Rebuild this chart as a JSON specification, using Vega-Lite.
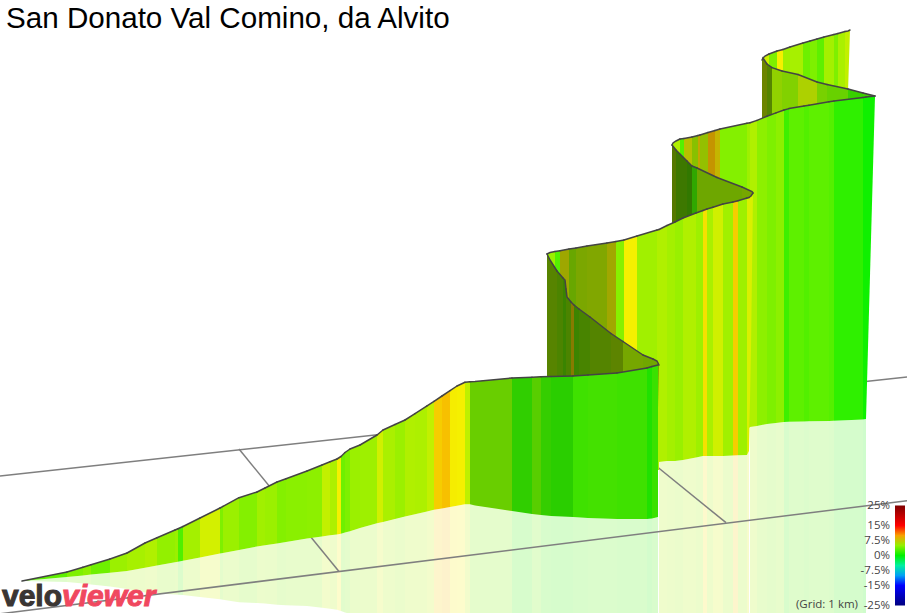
{
  "$schema": "https://vega.github.io/schema/vega-lite/v6.json",
  "width": 907,
  "height": 613,
  "padding": 0,
  "autosize": "none",
  "background": "white",
  "config": {"view": {"stroke": null}},
  "title": {"text": "San Donato Val Comino, da Alvito", "anchor": "start", "frame": "group", "font": "Liberation Sans", "fontSize": 29.6, "fontWeight": "normal", "color": "black", "baseline": "top", "dx": 6, "offset": -35},
  "datasets": {
    "grid": [
      {"line": "far", "x": 0, "t": 476}, {"line": "far", "x": 907, "t": 377},
      {"line": "near", "x": 0, "t": 613.8}, {"line": "near", "x": 907, "t": 500.7},
      {"line": "cross1", "x": 239, "t": 449}, {"line": "cross1", "x": 339, "t": 571.5},
      {"line": "cross2", "x": 655, "t": 465}, {"line": "cross2", "x": 726, "t": 522.7}
    ],
    "velo": [{"label": "velo", "x": 2, "t": 606}],
    "viewer": [{"label": "viewer", "x": 62, "t": 606}],
    "note": [{"label": "(Grid: 1 km)", "x": 858, "t": 605}]
  },
  "data": {"values": [
    {"s":1,"sec":"A1","g":3.2,"x":[22,67],"t":[581,572],"b":[581,577],"r":[581,582]},
    {"s":2,"sec":"A1","g":4.3,"x":[67,83],"t":[572,567.2],"b":[577,575.4],"r":[582,583.6]},
    {"s":3,"sec":"A1","g":4.8,"x":[83,91],"t":[567.2,564.7],"b":[575.4,574.6],"r":[583.6,584.5]},
    {"s":4,"sec":"A1","g":3.75,"x":[91,110],"t":[564.7,559],"b":[574.6,572.7],"r":[584.5,586.4]},
    {"s":5,"sec":"A1","g":5.3,"x":[110,127],"t":[559,553],"b":[572.7,571],"r":[586.4,589]},
    {"s":6,"sec":"A1","g":5.7,"x":[127,145],"t":[553,543],"b":[571,567.8],"r":[589,592.6]},
    {"s":7,"sec":"A1","g":6,"x":[145,157],"t":[543,537.7],"b":[567.8,565.5],"r":[592.6,593.3]},
    {"s":8,"sec":"A1","g":5,"x":[157,175],"t":[537.7,530],"b":[565.5,562.3],"r":[593.3,594.6]},
    {"s":9,"sec":"A1","g":5.3,"x":[175,178],"t":[530,528.7],"b":[562.3,561.7],"r":[594.6,594.7]},
    {"s":10,"sec":"A1","g":2.7,"x":[178,183],"t":[528.7,526.5],"b":[561.7,560.8],"r":[594.7,595.1]},
    {"s":11,"sec":"A1","g":5.6,"x":[183,200],"t":[526.5,518],"b":[560.8,557.5],"r":[595.1,597]},
    {"s":12,"sec":"A1","g":6.75,"x":[200,220],"t":[518,508],"b":[557.5,553.6],"r":[597,599.2]},
    {"s":13,"sec":"A1","g":4.3,"x":[220,223],"t":[508,506.3],"b":[553.6,553],"r":[599.2,599.7]},
    {"s":14,"sec":"A1","g":5.3,"x":[223,239],"t":[506.3,497.7],"b":[553,550],"r":[599.7,602.3]},
    {"s":15,"sec":"A1","g":4.5,"x":[239,257],"t":[497.7,492],"b":[550,546.5],"r":[602.3,603]},
    {"s":16,"sec":"A1","g":5.5,"x":[257,265],"t":[492,488],"b":[546.5,545.2],"r":[603,603.6]},
    {"s":17,"sec":"A1","g":5.3,"x":[265,277],"t":[488,482],"b":[545.2,543.4],"r":[603.6,604.8]},
    {"s":18,"sec":"A1","g":4.5,"x":[277,286],"t":[482,478.7],"b":[543.4,542],"r":[604.8,605.3]},
    {"s":19,"sec":"A1","g":4.7,"x":[286,307],"t":[478.7,471],"b":[542,538.5],"r":[605.3,606]},
    {"s":20,"sec":"A1","g":4.8,"x":[307,322],"t":[471,465],"b":[538.5,536.4],"r":[606,607.8]},
    {"s":21,"sec":"A1","g":6.4,"x":[322,330],"t":[465,461.8],"b":[536.4,535.3],"r":[607.8,608.8]},
    {"s":22,"sec":"A1","g":5.9,"x":[330,337],"t":[461.8,459],"b":[535.3,534.4],"r":[608.8,609.8]},
    {"s":23,"sec":"A1","g":7.5,"x":[337,341],"t":[459,456.5],"b":[534.4,533.7],"r":[609.8,611]},
    {"s":24,"sec":"A1","g":3.75,"x":[341,345],"t":[456.5,452.5],"b":[533.7,532.5],"r":[611,612.5]},
    {"s":25,"sec":"A1","g":4.3,"x":[345,350],"t":[452.5,449],"b":[532.5,531.2],"r":[612.5,614]},
    {"s":26,"sec":"A1","g":5.3,"x":[350,360],"t":[449,445],"b":[531.2,528],"r":[614,625]},
    {"s":27,"sec":"A1","g":5.4,"x":[360,377],"t":[445,435],"b":[528,523.3],"r":[625,640]},
    {"s":28,"sec":"A1","g":6.7,"x":[377,383],"t":[435,430],"b":[523.3,522],"r":[640,640]},
    {"s":29,"sec":"A1","g":5.8,"x":[383,395],"t":[430,424.5],"b":[522,519],"r":[640,640]},
    {"s":30,"sec":"A1","g":5.3,"x":[395,405],"t":[424.5,420],"b":[519,516.6],"r":[640,640]},
    {"s":31,"sec":"A1","g":6,"x":[405,415],"t":[420,413.6],"b":[516.6,514.2],"r":[640,640]},
    {"s":32,"sec":"A1","g":5.9,"x":[415,427],"t":[413.6,405.9],"b":[514.2,511.4],"r":[640,640]},
    {"s":33,"sec":"A1","g":6.4,"x":[427,434],"t":[405.9,401.3],"b":[511.4,509.8],"r":[640,640]},
    {"s":34,"sec":"A1","g":8.6,"x":[434,442],"t":[401.3,396],"b":[509.8,508.4],"r":[640,640]},
    {"s":35,"sec":"A1","g":9,"x":[442,450],"t":[396,390.7],"b":[508.4,507],"r":[640,640]},
    {"s":36,"sec":"A1","g":7.6,"x":[450,457],"t":[390.7,386],"b":[507,505.8],"r":[640,640]},
    {"s":37,"sec":"A1","g":7.5,"x":[457,465],"t":[386,382.3],"b":[505.8,504.3],"r":[640,640]},
    {"s":38,"sec":"A1","g":6.3,"x":[465,470],"t":[382.3,381.7],"b":[504.3,504.3],"r":[640,640]},
    {"s":39,"sec":"A2","g":4.2,"x":[470,475,512],"t":[381.7,381.4,378],"b":[504.3,505.5,511],"r":[640,640,640]},
    {"s":40,"sec":"A2","g":1.9,"x":[512,532],"t":[378,377.2],"b":[511,514],"r":[640,640]},
    {"s":41,"sec":"A2","g":3.5,"x":[532,541],"t":[377.2,376.8],"b":[514,515],"r":[640,640]},
    {"s":42,"sec":"A2","g":2.1,"x":[541,551],"t":[376.8,376.5],"b":[515,516],"r":[640,640]},
    {"s":43,"sec":"A2","g":1.7,"x":[551,573],"t":[376.5,376],"b":[516,517],"r":[640,640]},
    {"s":44,"sec":"A3","g":2.3,"x":[573,588],"t":[376,375],"b":[517,518],"r":[640,640]},
    {"s":45,"sec":"A3","g":2.5,"x":[588,617],"t":[375,373],"b":[518,519],"r":[640,640]},
    {"s":46,"sec":"A3","g":2.3,"x":[617,647],"t":[373,368],"b":[519,519],"r":[640,640]},
    {"s":47,"sec":"A3","g":1.2,"x":[647,652],"t":[368,366.5],"b":[519,518.5],"r":[640,640]},
    {"s":48,"sec":"A3","g":2.1,"x":[652,658],"t":[366.5,365],"b":[518.5,517],"r":[640,640]},

    {"s":50,"sec":"B","g":5.4,"x":[547,550,557],"t":[254,260,271],"b":[450,450,450],"r":[]},
    {"s":51,"sec":"B","g":4.7,"x":[557,563],"t":[271,278],"b":[450,450],"r":[]},
    {"s":52,"sec":"B","g":3.6,"x":[563,565,566],"t":[278,280,289],"b":[450,450,450],"r":[]},
    {"s":53,"sec":"B","g":4.7,"x":[566,567,571],"t":[289,297,302],"b":[450,450,450],"r":[]},
    {"s":54,"sec":"B","g":8,"x":[571,574],"t":[302,305],"b":[450,450],"r":[]},
    {"s":55,"sec":"B","g":3.7,"x":[574,579],"t":[305,309],"b":[450,450],"r":[]},
    {"s":56,"sec":"B","g":4.5,"x":[579,590],"t":[309,317],"b":[450,450],"r":[]},
    {"s":57,"sec":"B","g":5.2,"x":[590,611],"t":[317,333.5],"b":[450,450],"r":[]},
    {"s":58,"sec":"B","g":5.8,"x":[611,623],"t":[333.5,341.5],"b":[450,450],"r":[]},
    {"s":59,"sec":"B2","g":5.8,"x":[623,643],"t":[341.5,355],"b":[450,450],"r":[]},
    {"s":60,"sec":"B2","g":5.5,"x":[643,653],"t":[355,359],"b":[450,450],"r":[]},
    {"s":61,"sec":"B2","g":5.6,"x":[653,657,659],"t":[359,361,365],"b":[450,450,365],"r":[]},

    {"s":70,"sec":"C2","g":5.3,"x":[547,550,555],"t":[254,252.5,251.5],"b":[470,470,470],"r":[]},
    {"s":71,"sec":"C2","g":2.9,"x":[555,560],"t":[251.5,250.7],"b":[470,470],"r":[]},
    {"s":72,"sec":"C1","g":7.1,"x":[560,569],"t":[250.7,249],"b":[470,470],"r":[]},
    {"s":73,"sec":"C1","g":5.1,"x":[569,576],"t":[249,248],"b":[470,470],"r":[]},
    {"s":74,"sec":"C1","g":6,"x":[576,587],"t":[248,246],"b":[470,470],"r":[]},
    {"s":75,"sec":"C1","g":6.2,"x":[587,607],"t":[246,243],"b":[470,470],"r":[]},
    {"s":76,"sec":"C1","g":7.2,"x":[607,616],"t":[243,241.5],"b":[470,470],"r":[]},
    {"s":77,"sec":"C2","g":4.6,"x":[616,624],"t":[241.5,240],"b":[470,470],"r":[]},
    {"s":78,"sec":"C2","g":7.5,"x":[624,637],"t":[240,236],"b":[470,470],"r":[]},
    {"s":79,"sec":"C2","g":5.5,"x":[637,657],"t":[236,230],"b":[470,470],"r":[]},
    {"s":80,"sec":"C2","g":6,"x":[657,659],"t":[230,229.5],"b":[470,470],"r":[]},
    {"s":81,"sec":"C2","g":6,"x":[659,667],"t":[229.5,225.5],"b":[462,461],"r":[640,640]},
    {"s":82,"sec":"C2","g":5.6,"x":[667,675],"t":[225.5,222],"b":[461,461],"r":[640,640]},
    {"s":83,"sec":"C2","g":5.2,"x":[675,683],"t":[222,218],"b":[461,460],"r":[640,640]},
    {"s":84,"sec":"C2","g":6,"x":[683,696],"t":[218,213],"b":[460,457.5],"r":[640,640]},
    {"s":85,"sec":"C2","g":5.4,"x":[696,703],"t":[213,210.5],"b":[457.5,456],"r":[640,640]},
    {"s":86,"sec":"C2","g":8,"x":[703,707],"t":[210.5,209],"b":[456,456],"r":[640,640]},
    {"s":87,"sec":"C2","g":5.8,"x":[707,713],"t":[209,207.3],"b":[456,456],"r":[640,640]},
    {"s":88,"sec":"C2","g":6.7,"x":[713,723],"t":[207.3,204],"b":[456,456],"r":[640,640]},
    {"s":89,"sec":"C2","g":5.5,"x":[723,733],"t":[204,202],"b":[456,455.5],"r":[640,640]},
    {"s":90,"sec":"C2","g":8.6,"x":[733,738],"t":[202,200.7],"b":[455.5,455.3],"r":[640,640]},
    {"s":91,"sec":"C2","g":5.4,"x":[738,747],"t":[200.7,198],"b":[455.3,455],"r":[640,640]},
    {"s":92,"sec":"C2","g":6.9,"x":[747,749],"t":[198,197.5],"b":[455,451],"r":[640,640]},
    {"s":93,"sec":"C2","g":6.9,"x":[749,751,753],"t":[197.5,196,193],"b":[451,350,193],"r":[]},

    {"s":100,"sec":"D1","g":5.8,"x":[672,676],"t":[145,150],"b":[300,300],"r":[]},
    {"s":101,"sec":"D1","g":4.2,"x":[676,687],"t":[150,161],"b":[300,300],"r":[]},
    {"s":102,"sec":"D1","g":3.4,"x":[687,692],"t":[161,166],"b":[300,300],"r":[]},
    {"s":103,"sec":"D2","g":2.4,"x":[692,697],"t":[166,168],"b":[300,300],"r":[]},
    {"s":104,"sec":"D2","g":5.4,"x":[697,717],"t":[168,177.5],"b":[300,300],"r":[]},
    {"s":105,"sec":"D2","g":5.4,"x":[717,742],"t":[177.5,187],"b":[300,300],"r":[]},
    {"s":106,"sec":"D2","g":5.8,"x":[742,752,753],"t":[187,191.5,193],"b":[300,195,193],"r":[]},

    {"s":110,"sec":"E2","g":6,"x":[672,673,676,680],"t":[145,143,141,139],"b":[430,430,430,430],"r":[]},
    {"s":111,"sec":"E2","g":2.9,"x":[680,684],"t":[139,138.4],"b":[430,430],"r":[]},
    {"s":112,"sec":"E1","g":7.2,"x":[684,692],"t":[138.4,137],"b":[430,430],"r":[]},
    {"s":113,"sec":"E1","g":5.8,"x":[692,698],"t":[137,135.5],"b":[430,430],"r":[]},
    {"s":114,"sec":"E1","g":8.5,"x":[698,700],"t":[135.5,135],"b":[430,430],"r":[]},
    {"s":115,"sec":"E1","g":6.2,"x":[700,708],"t":[135,132.5],"b":[430,430],"r":[]},
    {"s":116,"sec":"E1","g":9.2,"x":[708,715],"t":[132.5,130.5],"b":[430,430],"r":[]},
    {"s":117,"sec":"E1","g":7.9,"x":[715,720],"t":[130.5,129],"b":[430,430],"r":[]},
    {"s":118,"sec":"E2","g":4.5,"x":[720,747],"t":[129,123.3],"b":[430,430],"r":[]},
    {"s":119,"sec":"E2","g":5.4,"x":[747,750],"t":[123.3,122.7],"b":[430,427],"r":[]},
    {"s":120,"sec":"E2","g":6,"x":[750,757],"t":[122.7,120.4],"b":[427,426],"r":[640,640]},
    {"s":121,"sec":"E2","g":4.8,"x":[757,767],"t":[120.4,116.2],"b":[426,424],"r":[640,640]},
    {"s":122,"sec":"E2","g":4.3,"x":[767,776],"t":[116.2,112.9],"b":[424,423],"r":[640,640]},
    {"s":123,"sec":"E2","g":4.8,"x":[776,784],"t":[112.9,110],"b":[423,422],"r":[640,640]},
    {"s":124,"sec":"E2","g":2.1,"x":[784,789],"t":[110,108.6],"b":[422,421.8],"r":[640,640]},
    {"s":125,"sec":"E2","g":3.2,"x":[789,804],"t":[108.6,106],"b":[421.8,421.5],"r":[640,640]},
    {"s":126,"sec":"E2","g":2.8,"x":[804,809],"t":[106,105.2],"b":[421.5,421.3],"r":[640,640]},
    {"s":127,"sec":"E2","g":3.2,"x":[809,829],"t":[105.2,101.8],"b":[421.3,421],"r":[640,640]},
    {"s":128,"sec":"E2","g":2.9,"x":[829,834],"t":[101.8,101],"b":[421,420.8],"r":[640,640]},
    {"s":129,"sec":"E2","g":1.6,"x":[834,863],"t":[101,97.4],"b":[420.8,419.5],"r":[640,640]},
    {"s":130,"sec":"E2","g":0.5,"x":[863,866],"t":[97.4,97],"b":[419.5,419],"r":[640,640]},
    {"s":131,"sec":"E2","g":0.5,"x":[866,875],"t":[97,96],"b":[419,96],"r":[]},

    {"s":140,"sec":"F1","g":6.5,"x":[762,763,767],"t":[60,58,64],"b":[130,130,130],"r":[]},
    {"s":141,"sec":"F1","g":5.3,"x":[767,772],"t":[64,67.6],"b":[130,130],"r":[]},
    {"s":142,"sec":"F2","g":5.7,"x":[772,782],"t":[67.6,71],"b":[130,130],"r":[]},
    {"s":143,"sec":"F2","g":5.1,"x":[782,798],"t":[71,74.5],"b":[130,130],"r":[]},
    {"s":144,"sec":"F2","g":6.5,"x":[798,817],"t":[74.5,82],"b":[130,130],"r":[]},
    {"s":145,"sec":"F2","g":4.7,"x":[817,827],"t":[82,84.5],"b":[130,130],"r":[]},
    {"s":146,"sec":"F2","g":4.1,"x":[827,848],"t":[84.5,89],"b":[130,130],"r":[]},
    {"s":147,"sec":"F2","g":2.2,"x":[848,863],"t":[89,93],"b":[130,130],"r":[]},
    {"s":148,"sec":"F2","g":2.6,"x":[863,875],"t":[93,96],"b":[130,97],"r":[]},

    {"s":150,"sec":"G","g":6.6,"x":[763,765,769],"t":[58,56,54],"b":[120,120,120],"r":[]},
    {"s":151,"sec":"G","g":4.3,"x":[769,777],"t":[54,51],"b":[120,120],"r":[]},
    {"s":152,"sec":"G","g":7.5,"x":[777,783],"t":[51,49.5],"b":[120,120],"r":[]},
    {"s":153,"sec":"G","g":5.5,"x":[783,790],"t":[49.5,47],"b":[120,120],"r":[]},
    {"s":154,"sec":"G","g":5.7,"x":[790,803],"t":[47,43],"b":[120,120],"r":[]},
    {"s":155,"sec":"G","g":3.75,"x":[803,810],"t":[43,41],"b":[120,120],"r":[]},
    {"s":156,"sec":"G","g":4.3,"x":[810,817],"t":[41,39],"b":[120,120],"r":[]},
    {"s":157,"sec":"G","g":3.2,"x":[817,824],"t":[39,37],"b":[120,120],"r":[]},
    {"s":158,"sec":"G","g":5.6,"x":[824,834],"t":[37,34.5],"b":[120,120],"r":[]},
    {"s":159,"sec":"G","g":4.3,"x":[834,838],"t":[34.5,33.5],"b":[120,120],"r":[]},
    {"s":160,"sec":"G","g":5.8,"x":[838,845],"t":[33.5,31.5],"b":[120,120],"r":[]},
    {"s":161,"sec":"G","g":6.4,"x":[845,848,850],"t":[31.5,31,30],"b":[120,92,30],"r":[]}
  ]},
  "transform": [{"flatten": ["x", "t", "b", "r"]}],
  "encoding": {
    "x": {"field": "x", "type": "quantitative", "scale": {"domain": [0, 907], "nice": false, "zero": false}, "axis": null},
    "y": {"field": "t", "type": "quantitative", "scale": {"domain": [613, 0], "nice": false, "zero": false}, "axis": null},
    "detail": {"field": "s"},
    "color": {
      "field": "g",
      "type": "quantitative",
      "scale": {
        "domain": [-25, -15, -7.5, 0, 6, 7.5, 15, 25],
        "range": ["#00007f", "#0000ff", "#00f0f0", "#00f000", "#b0f000", "#f5f000", "#ff0000", "#7f0000"],
        "interpolate": "rgb"
      },
      "legend": {
        "orient": "none",
        "legendX": 895,
        "legendY": 505.5,
        "title": null,
        "padding": 0,
        "direction": "vertical",
        "gradientLength": 100,
        "gradientThickness": 10,
        "values": [-25, -15, -7.5, 0, 7.5, 15, 25],
        "labelExpr": "datum.value + '%'",
        "labelFont": "Open Sans",
        "labelFontSize": 11.5,
        "labelColor": "#444444",
        "labelOffset": -15,
        "labelOverlap": false,
        "labelPadding": 0,
        "encode": {
          "gradient": {"update": {"opacity": {"value": 1}}},
          "labels": {"update": {"align": {"value": "right"}, "baseline": {"value": "middle"}, "opacity": {"value": 1}}}
        }
      }
    }
  },
  "layer": [
    {
      "transform": [{"filter": "datum.r != null"}],
      "mark": {"type": "area", "opacity": 0.2, "clip": true},
      "encoding": {"y": {"field": "b", "type": "quantitative"}, "y2": {"field": "r"}}
    },
    {
      "data": {"name": "grid"},
      "mark": {"type": "line", "strokeWidth": 1.5, "clip": true},
      "encoding": {"detail": {"field": "line"}, "color": {"value": "#7f7f7f"}}
    },
    {"transform": [{"filter": {"field": "sec", "oneOf": ["G"]}}], "mark": "area", "encoding": {"y2": {"field": "b"}}},
    {"transform": [{"filter": {"field": "sec", "oneOf": ["F1", "F2"]}}], "mark": "area", "encoding": {"y2": {"field": "b"}}},
    {"transform": [{"filter": {"field": "sec", "oneOf": ["F1"]}}], "mark": {"type": "area", "opacity": 0.45}, "encoding": {"y2": {"field": "b"}, "color": {"value": "black"}}},
    {"transform": [{"filter": {"field": "sec", "oneOf": ["F2"]}}], "mark": {"type": "area", "opacity": 0.13}, "encoding": {"y2": {"field": "b"}, "color": {"value": "black"}}},
    {"transform": [{"filter": {"field": "sec", "oneOf": ["E1", "E2"]}}], "mark": "area", "encoding": {"y2": {"field": "b"}}},
    {"transform": [{"filter": {"field": "sec", "oneOf": ["E1"]}}], "mark": {"type": "area", "opacity": 0.2}, "encoding": {"y2": {"field": "b"}, "color": {"value": "black"}}},
    {"transform": [{"filter": {"field": "sec", "oneOf": ["D1", "D2"]}}], "mark": "area", "encoding": {"y2": {"field": "b"}}},
    {"transform": [{"filter": {"field": "sec", "oneOf": ["D1"]}}], "mark": {"type": "area", "opacity": 0.5}, "encoding": {"y2": {"field": "b"}, "color": {"value": "black"}}},
    {"transform": [{"filter": {"field": "sec", "oneOf": ["D2"]}}], "mark": {"type": "area", "opacity": 0.3}, "encoding": {"y2": {"field": "b"}, "color": {"value": "black"}}},
    {"transform": [{"filter": {"field": "sec", "oneOf": ["C1", "C2"]}}], "mark": "area", "encoding": {"y2": {"field": "b"}}},
    {"transform": [{"filter": {"field": "sec", "oneOf": ["C1"]}}], "mark": {"type": "area", "opacity": 0.3}, "encoding": {"y2": {"field": "b"}, "color": {"value": "black"}}},
    {"transform": [{"filter": {"field": "sec", "oneOf": ["B", "B2"]}}], "mark": "area", "encoding": {"y2": {"field": "b"}}},
    {"transform": [{"filter": {"field": "sec", "oneOf": ["B"]}}], "mark": {"type": "area", "opacity": 0.45}, "encoding": {"y2": {"field": "b"}, "color": {"value": "black"}}},
    {"transform": [{"filter": {"field": "sec", "oneOf": ["B2"]}}], "mark": {"type": "area", "opacity": 0.3}, "encoding": {"y2": {"field": "b"}, "color": {"value": "black"}}},
    {"transform": [{"filter": {"field": "sec", "oneOf": ["A1", "A2", "A3"]}}], "mark": "area", "encoding": {"y2": {"field": "b"}}},
    {"transform": [{"filter": {"field": "sec", "oneOf": ["A2"]}}], "mark": {"type": "area", "opacity": 0.14}, "encoding": {"y2": {"field": "b"}, "color": {"value": "black"}}},
    {"transform": [{"filter": {"field": "sec", "oneOf": ["A3"]}}], "mark": {"type": "area", "opacity": 0.06}, "encoding": {"y2": {"field": "b"}, "color": {"value": "black"}}},
    {
      "mark": {"type": "line", "strokeWidth": 1.5, "strokeCap": "round"},
      "encoding": {"color": {"value": "#444444"}}
    },
    {
      "data": {"name": "velo"},
      "mark": {"type": "text", "align": "left", "baseline": "alphabetic", "font": "Liberation Sans", "fontWeight": "bold", "fontSize": 30, "stroke": "#3a3533", "strokeWidth": 1},
      "encoding": {"text": {"field": "label"}, "color": {"value": "#3a3533"}}
    },
    {
      "data": {"name": "viewer"},
      "mark": {"type": "text", "align": "left", "baseline": "alphabetic", "font": "Liberation Sans", "fontWeight": "bold", "fontStyle": "italic", "fontSize": 30, "stroke": "#f0485f", "strokeWidth": 1},
      "encoding": {"text": {"field": "label"}, "color": {"value": "#f0485f"}}
    },
    {
      "data": {"name": "note"},
      "mark": {"type": "text", "align": "right", "baseline": "middle", "font": "Open Sans", "fontSize": 11.5},
      "encoding": {"text": {"field": "label"}, "color": {"value": "#444444"}}
    }
  ]
}
